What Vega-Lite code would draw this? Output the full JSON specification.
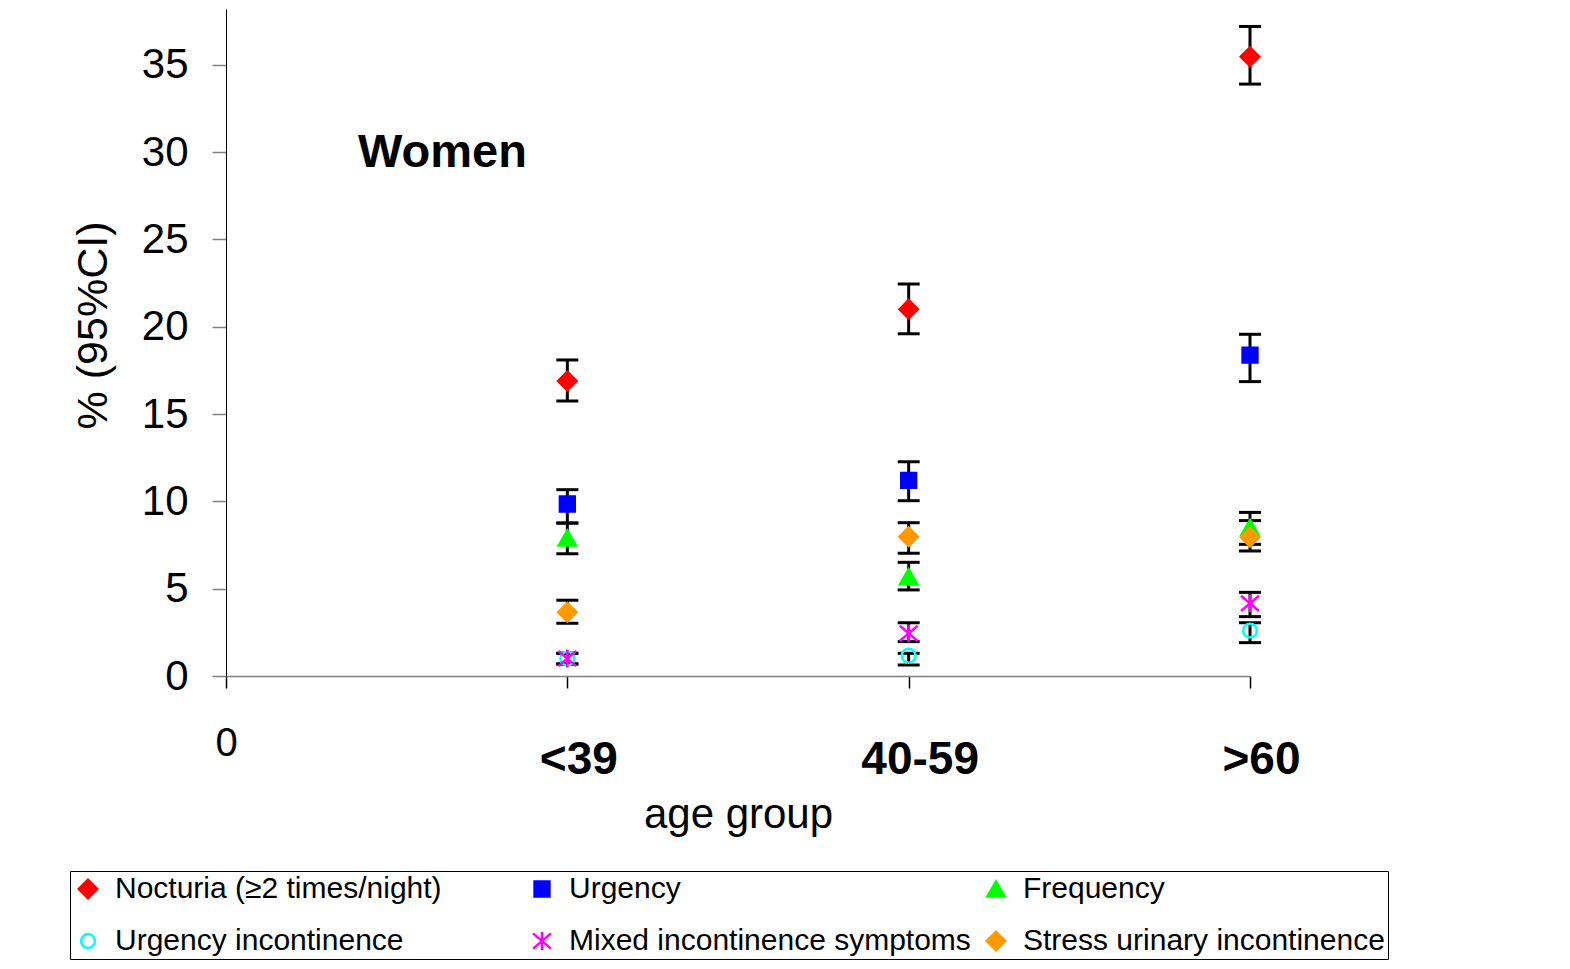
{
  "$schema": "https://vega.github.io/schema/vega-lite/v6.json",
  "autosize": {"type": "none"},
  "padding": {"left": 226, "top": 9, "right": 320, "bottom": 293},
  "width": 1024,
  "height": 667,
  "background": "white",
  "config": {"font": "Liberation Sans", "view": {"stroke": null}},
  "title": {"text": "Women", "anchor": "start", "frame": "group", "offset": 0, "dx": 132, "dy": 205, "baseline": "alphabetic", "fontSize": 47, "fontWeight": "bold", "color": "black"},
  "data": {"values": [
    {"age": "<39", "series": "Nocturia (≥2 times/night)", "value": 16.9, "lo": 15.75, "hi": 18.1},
    {"age": "<39", "series": "Urgency", "value": 9.85, "lo": 8.76, "hi": 10.67},
    {"age": "<39", "series": "Frequency", "value": 7.9, "lo": 7.0, "hi": 8.76},
    {"age": "<39", "series": "Urgency incontinence", "value": 1.0, "lo": 0.69, "hi": 1.3},
    {"age": "<39", "series": "Mixed incontinence symptoms", "value": 1.0, "lo": 0.69, "hi": 1.3},
    {"age": "<39", "series": "Stress urinary incontinence", "value": 3.65, "lo": 3.02, "hi": 4.34},
    {"age": "40-59", "series": "Nocturia (≥2 times/night)", "value": 21.0, "lo": 19.6, "hi": 22.45},
    {"age": "40-59", "series": "Urgency", "value": 11.2, "lo": 10.04, "hi": 12.27},
    {"age": "40-59", "series": "Frequency", "value": 5.69, "lo": 4.93, "hi": 6.51},
    {"age": "40-59", "series": "Urgency incontinence", "value": 1.16, "lo": 0.63, "hi": 1.3},
    {"age": "40-59", "series": "Mixed incontinence symptoms", "value": 2.44, "lo": 1.97, "hi": 3.05},
    {"age": "40-59", "series": "Stress urinary incontinence", "value": 7.98, "lo": 7.03, "hi": 8.78},
    {"age": ">60", "series": "Nocturia (≥2 times/night)", "value": 35.47, "lo": 33.9, "hi": 37.2},
    {"age": ">60", "series": "Urgency", "value": 18.38, "lo": 16.86, "hi": 19.57},
    {"age": ">60", "series": "Frequency", "value": 8.5, "lo": 7.54, "hi": 9.37},
    {"age": ">60", "series": "Urgency incontinence", "value": 2.6, "lo": 1.91, "hi": 3.05},
    {"age": ">60", "series": "Mixed incontinence symptoms", "value": 4.16, "lo": 3.4, "hi": 4.79},
    {"age": ">60", "series": "Stress urinary incontinence", "value": 7.94, "lo": 7.16, "hi": 8.9}
  ]},
  "encoding": {
    "x": {
      "field": "age", "type": "ordinal",
      "scale": {"type": "point", "domain": ["0", "<39", "40-59", ">60"], "padding": 0},
      "axis": {
        "title": "age group", "titleFontSize": 42, "titleFontWeight": "normal", "titleColor": "black",
        "titleY": 151, "titleBaseline": "alphabetic",
        "labelAngle": 0, "labelColor": "black", "labelOverlap": false,
        "labelFontSize": {"condition": {"test": "datum.value === '0'", "value": 40}, "value": 46},
        "labelFontWeight": {"condition": {"test": "datum.value === '0'", "value": "normal"}, "value": "bold"},
        "labelPadding": {"condition": {"test": "datum.value === '0'", "value": 67}, "value": 85},
        "labelOffset": {"condition": {"test": "datum.value === '0'", "value": 0}, "value": 11},
        "labelBaseline": "alphabetic",
        "tickSize": 12, "tickColor": "black", "tickWidth": 1.5,
        "domainColor": "#808080", "domainWidth": 1.5, "grid": false
      }
    }
  },
  "layer": [
    {
      "mark": {"type": "rule", "color": "black", "strokeWidth": 3},
      "encoding": {
        "y": {
          "field": "lo", "type": "quantitative", "title": "% (95%CI)",
          "scale": {"domain": [0, 38.2], "nice": false},
          "axis": {
            "values": [0, 5, 10, 15, 20, 25, 30, 35],
            "titleFontSize": 43, "titleFontWeight": "normal", "titleColor": "black",
            "titleX": -120, "titleY": 316, "titleBaseline": "alphabetic", "titleAngle": 270,
            "labelFontSize": 42, "labelColor": "black", "labelPadding": 24, "labelOverlap": false, "labelFlush": false,
            "tickSize": 14, "tickColor": "#808080", "tickWidth": 1.5,
            "domainColor": "black", "domainWidth": 1, "grid": false
          }
        },
        "y2": {"field": "hi"}
      }
    },
    {
      "mark": {"type": "tick", "color": "black", "size": 22, "thickness": 3, "opacity": 1},
      "encoding": {
        "y": {"field": "lo", "type": "quantitative", "title": "% (95%CI)"}
      }
    },
    {
      "mark": {"type": "tick", "color": "black", "size": 22, "thickness": 3, "opacity": 1},
      "encoding": {
        "y": {"field": "hi", "type": "quantitative", "title": "% (95%CI)"}
      }
    },
    {
      "mark": {"type": "point", "filled": true, "strokeWidth": 2.5, "opacity": 1},
      "encoding": {
        "y": {"field": "value", "type": "quantitative", "title": "% (95%CI)"},
        "shape": {
          "field": "series", "type": "nominal",
          "scale": {
            "domain": ["Nocturia (≥2 times/night)", "Urgency", "Frequency", "Urgency incontinence", "Mixed incontinence symptoms", "Stress urinary incontinence"],
            "range": ["diamond", "square", "triangle-up", "circle", "M0,-1L0,1M-1,-0.85L1,0.85M-1,0.85L1,-0.85", "diamond"]
          },
          "legend": {
            "title": null, "orient": "none", "legendX": -156, "legendY": 862,
            "direction": "horizontal", "columns": 3, "gridAlign": "all",
            "columnPadding": 10, "rowPadding": 22, "padding": 3,
            "strokeColor": "black", "fillColor": "white",
            "labelFontSize": 30, "labelColor": "black", "labelOffset": 12, "labelLimit": 600,
            "symbolStrokeWidth": 2.5
          }
        },
        "fill": {
          "field": "series", "type": "nominal",
          "scale": {
            "domain": ["Nocturia (≥2 times/night)", "Urgency", "Frequency", "Urgency incontinence", "Mixed incontinence symptoms", "Stress urinary incontinence"],
            "range": ["#ff0000", "#0000ff", "#00ff00", "transparent", "transparent", "#ff9900"]
          },
          "legend": {
            "title": null, "orient": "none", "legendX": -156, "legendY": 862,
            "direction": "horizontal", "columns": 3, "gridAlign": "all",
            "columnPadding": 10, "rowPadding": 22, "padding": 3,
            "strokeColor": "black", "fillColor": "white",
            "labelFontSize": 30, "labelColor": "black", "labelOffset": 12, "labelLimit": 600,
            "symbolStrokeWidth": 2.5
          }
        },
        "stroke": {
          "field": "series", "type": "nominal",
          "scale": {
            "domain": ["Nocturia (≥2 times/night)", "Urgency", "Frequency", "Urgency incontinence", "Mixed incontinence symptoms", "Stress urinary incontinence"],
            "range": ["#ff0000", "#0000ff", "#00ff00", "#00ffff", "#ff00ff", "#ff9900"]
          },
          "legend": {
            "title": null, "orient": "none", "legendX": -156, "legendY": 862,
            "direction": "horizontal", "columns": 3, "gridAlign": "all",
            "columnPadding": 10, "rowPadding": 22, "padding": 3,
            "strokeColor": "black", "fillColor": "white",
            "labelFontSize": 30, "labelColor": "black", "labelOffset": 12, "labelLimit": 600,
            "symbolStrokeWidth": 2.5
          }
        },
        "size": {
          "field": "series", "type": "nominal",
          "scale": {
            "type": "ordinal",
            "domain": ["Nocturia (≥2 times/night)", "Urgency", "Frequency", "Urgency incontinence", "Mixed incontinence symptoms", "Stress urinary incontinence"],
            "range": [340, 220, 300, 190, 320, 340]
          },
          "legend": {
            "title": null, "orient": "none", "legendX": -156, "legendY": 862,
            "direction": "horizontal", "columns": 3, "gridAlign": "all",
            "columnPadding": 10, "rowPadding": 22, "padding": 3,
            "strokeColor": "black", "fillColor": "white",
            "labelFontSize": 30, "labelColor": "black", "labelOffset": 12, "labelLimit": 600,
            "symbolStrokeWidth": 2.5
          }
        }
      }
    }
  ]
}
